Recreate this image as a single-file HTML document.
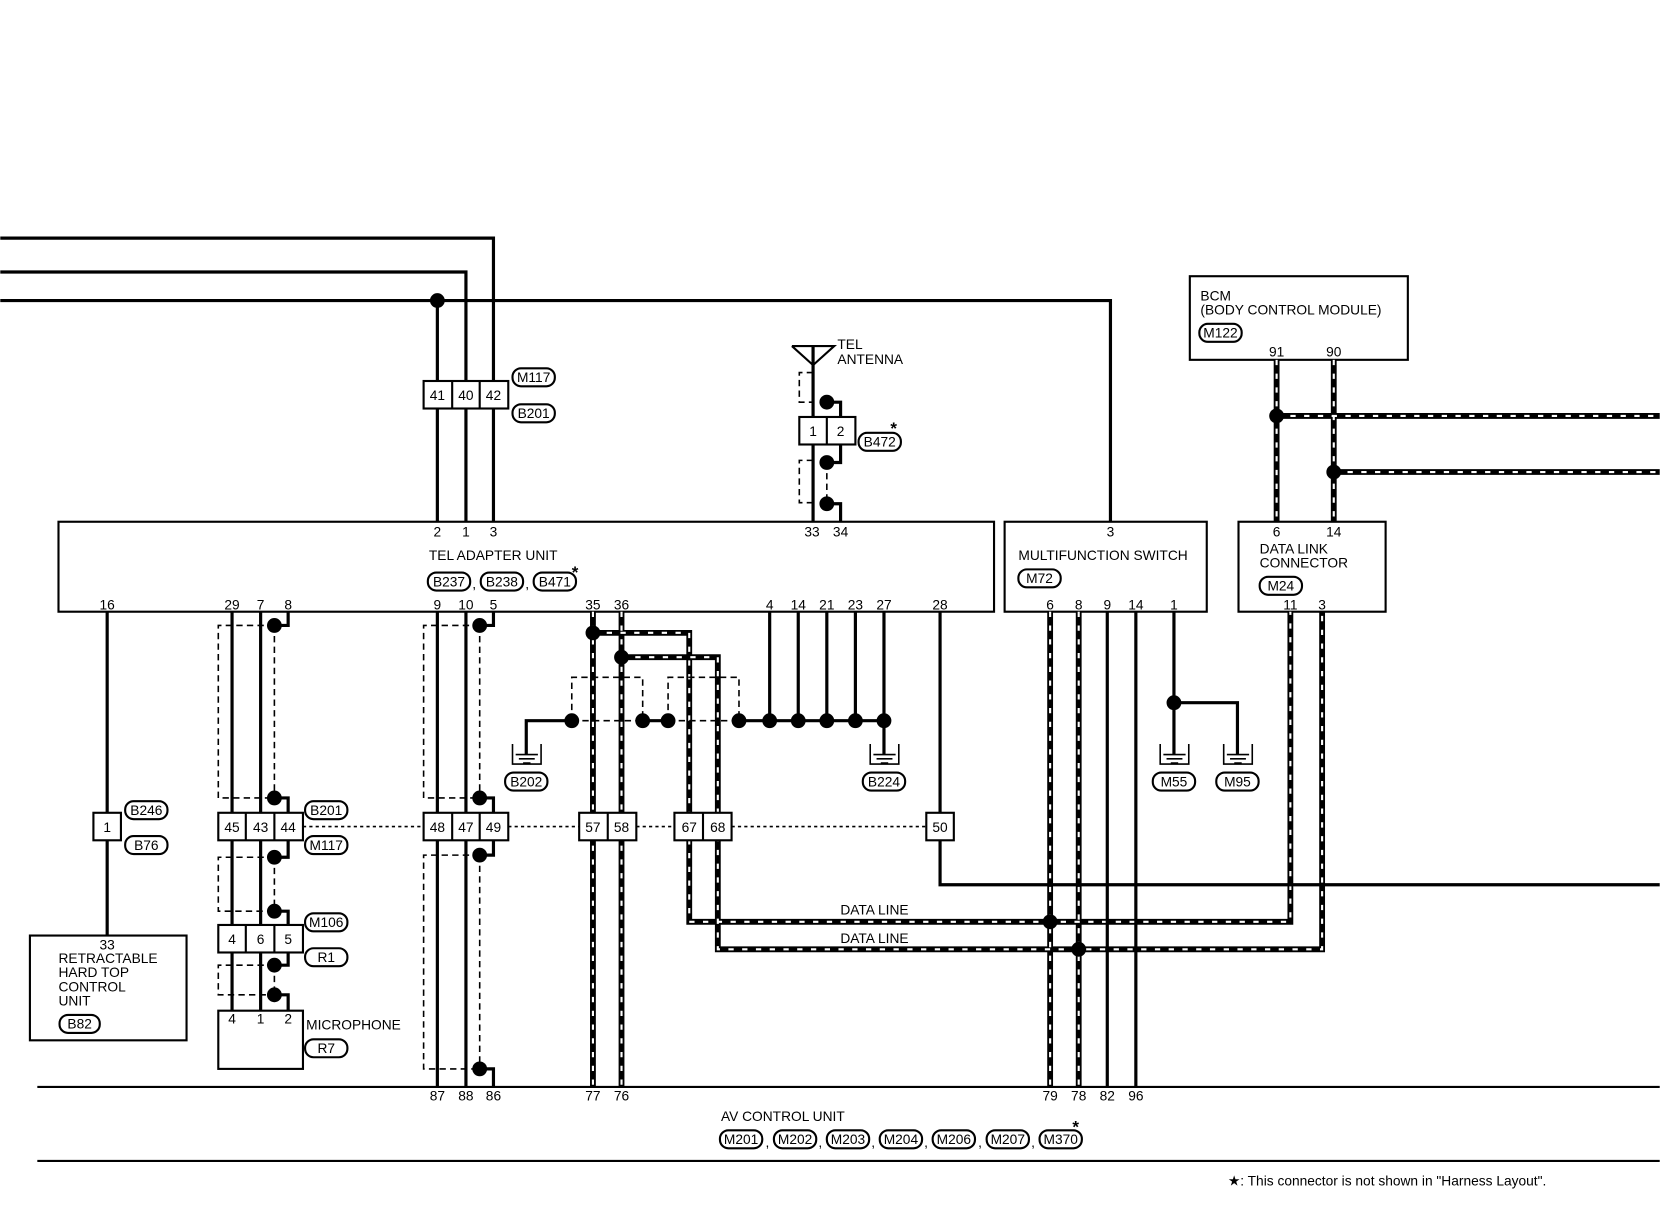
<!DOCTYPE html>
<html><head><meta charset="utf-8"><style>
html,body{margin:0;padding:0;background:#fff;}
svg{display:block}
text{font-family:"Liberation Sans",sans-serif;font-size:13px;fill:#000}
.w{stroke:#000;stroke-width:3;fill:none}
.b{stroke:#000;stroke-width:2;fill:none}
.bf{stroke:#000;stroke-width:2;fill:#fff}
.d{stroke:#000;stroke-width:1.5;fill:none;stroke-dasharray:6,4}
.dt{stroke:#000;stroke-width:1.5;fill:none;stroke-dasharray:3,3}
.k{stroke:#000;stroke-width:5.5;fill:none}
.kc{stroke:#fff;stroke-width:2;fill:none;stroke-dasharray:5,8}
.m{text-anchor:middle}
</style></head><body>
<svg width="1660" height="1216" viewBox="0 0 1568 1149" xmlns="http://www.w3.org/2000/svg">
<path class="w" d="M0 225H466V493M0 257H440V493M0 284H1049V493M413 284V493"/>
<circle cx="413" cy="284" r="7"/>
<rect class="bf" x="400" y="360" width="80" height="26"/>
<path class="b" d="M427 360V386M453 360V386"/>
<text class="m" x="413" y="378">41</text><text class="m" x="440" y="378">40</text><text class="m" x="466" y="378">42</text>
<rect class="b" x="484" y="348" width="40" height="17" rx="8"/><text class="m" x="504" y="361">M117</text>
<rect class="b" x="484" y="382" width="40" height="17" rx="8"/><text class="m" x="504" y="395">B201</text>

<rect class="b" x="55" y="493" width="884" height="85"/>
<g class="m"><text x="413" y="507">2</text><text x="440" y="507">1</text><text x="466" y="507">3</text><text x="767" y="507">33</text><text x="794" y="507">34</text>
<text x="101" y="576">16</text><text x="219" y="576">29</text><text x="246" y="576">7</text><text x="272" y="576">8</text><text x="413" y="576">9</text><text x="440" y="576">10</text><text x="466" y="576">5</text><text x="560" y="576">35</text><text x="587" y="576">36</text><text x="727" y="576">4</text><text x="754" y="576">14</text><text x="781" y="576">21</text><text x="808" y="576">23</text><text x="835" y="576">27</text><text x="888" y="576">28</text></g>
<text x="405" y="529">TEL ADAPTER UNIT</text>
<rect class="b" x="404" y="541" width="40" height="17" rx="8"/><text class="m" x="424" y="554">B237</text><text x="446" y="556">,</text>
<rect class="b" x="454" y="541" width="40" height="17" rx="8"/><text class="m" x="474" y="554">B238</text><text x="496" y="556">,</text>
<rect class="b" x="504" y="541" width="40" height="17" rx="8"/><text class="m" x="524" y="554">B471</text><text x="540" y="546" style="font-size:16px;font-weight:bold">*</text>

<path class="w" d="M748 327H788L768 345L748 327" style="stroke-width:2"/>
<path class="w" d="M768 327V493"/>
<text x="791" y="330">TEL</text><text x="791" y="344">ANTENNA</text>
<path class="w" d="M781 380H794V394M794 420V437H781M781 476H794V493"/>
<path class="d" d="M768 352H755V380H768M768 435H755V475H768M781 437V476"/>
<circle cx="781" cy="380" r="7"/><circle cx="781" cy="437" r="7"/><circle cx="781" cy="476" r="7"/>
<rect class="bf" x="755" y="394" width="53" height="26"/><path class="b" d="M781 394V420"/>
<text class="m" x="768" y="412">1</text><text class="m" x="794" y="412">2</text>
<rect class="b" x="811" y="409" width="40" height="17" rx="8"/><text class="m" x="831" y="422">B472</text><text x="841" y="410" style="font-size:16px;font-weight:bold">*</text>

<rect class="b" x="949" y="493" width="191" height="85"/>
<text class="m" x="1049" y="507">3</text>
<text x="962" y="529">MULTIFUNCTION SWITCH</text>
<rect class="b" x="962" y="538" width="40" height="17" rx="8"/><text class="m" x="982" y="551">M72</text>
<g class="m"><text x="992" y="576">6</text><text x="1019" y="576">8</text><text x="1046" y="576">9</text><text x="1073" y="576">14</text><text x="1109" y="576">1</text></g>

<rect class="b" x="1170" y="493" width="139" height="85"/>
<text class="m" x="1206" y="507">6</text><text class="m" x="1260" y="507">14</text>
<text x="1190" y="523">DATA LINK</text><text x="1190" y="536">CONNECTOR</text>
<rect class="b" x="1190" y="545" width="40" height="17" rx="8"/><text class="m" x="1210" y="558">M24</text>
<text class="m" x="1219" y="576">11</text><text class="m" x="1249" y="576">3</text>

<rect class="b" x="1124" y="261" width="206" height="79"/>
<text x="1134" y="284">BCM</text><text x="1134" y="297">(BODY CONTROL MODULE)</text>
<rect class="b" x="1133" y="306" width="40" height="17" rx="8"/><text class="m" x="1153" y="319">M122</text>
<text class="m" x="1206" y="337">91</text><text class="m" x="1260" y="337">90</text>

<g>
<path class="k" d="M1206 340V493M1260 340V493M1206 393H1568M1260 446H1568"/>
<path class="kc" d="M1206 340V493M1260 340V493M1206 393H1568M1260 446H1568"/>
<path class="k" d="M560 578V1027M587 578V1027M560 598H651V871H1219V578M587 621H678V897H1249V578M992 578V1027M1019 578V1027"/>
<path class="kc" d="M560 578V1027M587 578V1027M560 598H651V871H1219V578M587 621H678V897H1249V578M992 578V1027M1019 578V1027"/>
</g>
<circle cx="1206" cy="393" r="7"/><circle cx="1260" cy="446" r="7"/>
<circle cx="560" cy="598" r="7"/><circle cx="587" cy="621" r="7"/>
<circle cx="992" cy="871" r="7"/><circle cx="1019" cy="897" r="7"/>
<text class="m" x="826" y="864">DATA LINE</text><text class="m" x="826" y="891">DATA LINE</text>

<path class="w" d="M101 578V884"/>
<rect class="bf" x="88" y="768" width="26" height="26"/><text class="m" x="101" y="786">1</text>
<rect class="b" x="118" y="757" width="40" height="17" rx="8"/><text class="m" x="138" y="770">B246</text>
<rect class="b" x="118" y="790" width="40" height="17" rx="8"/><text class="m" x="138" y="803">B76</text>
<rect class="b" x="28" y="884" width="148" height="99"/>
<text class="m" x="101" y="897">33</text>
<text x="55" y="910">RETRACTABLE</text><text x="55" y="923">HARD TOP</text><text x="55" y="937">CONTROL</text><text x="55" y="950">UNIT</text>
<rect class="b" x="56" y="959" width="38" height="17" rx="8"/><text class="m" x="75" y="972">B82</text>

<path class="w" d="M219 578V955M246 578V955"/>
<path class="w" d="M272 578V591H259M259 754H272V768M272 794V810H259M259 861H272V874M272 900V912H259M259 940H272V955"/>
<path class="d" d="M259 591H206V754H259M259 591V754M259 810H206V861H259M259 810V861M259 912H206V940H259M259 912V940"/>
<circle cx="259" cy="591" r="7"/><circle cx="259" cy="754" r="7"/><circle cx="259" cy="810" r="7"/><circle cx="259" cy="861" r="7"/><circle cx="259" cy="912" r="7"/><circle cx="259" cy="940" r="7"/>
<rect class="bf" x="206" y="768" width="80" height="26"/><path class="b" d="M232 768V794M259 768V794"/>
<text class="m" x="219" y="786">45</text><text class="m" x="246" y="786">43</text><text class="m" x="272" y="786">44</text>
<rect class="b" x="288" y="757" width="40" height="17" rx="8"/><text class="m" x="308" y="770">B201</text>
<rect class="b" x="288" y="790" width="40" height="17" rx="8"/><text class="m" x="308" y="803">M117</text>
<rect class="bf" x="206" y="874" width="80" height="26"/><path class="b" d="M232 874V900M259 874V900"/>
<text class="m" x="219" y="892">4</text><text class="m" x="246" y="892">6</text><text class="m" x="272" y="892">5</text>
<rect class="b" x="288" y="863" width="40" height="17" rx="8"/><text class="m" x="308" y="876">M106</text>
<rect class="b" x="288" y="896" width="40" height="17" rx="8"/><text class="m" x="308" y="909">R1</text>
<rect class="bf" x="206" y="955" width="80" height="55"/>
<text class="m" x="219" y="967">4</text><text class="m" x="246" y="967">1</text><text class="m" x="272" y="967">2</text>
<text x="289" y="973">MICROPHONE</text>
<rect class="b" x="288" y="982" width="40" height="17" rx="8"/><text class="m" x="308" y="995">R7</text>

<path class="w" d="M413 578V1027M440 578V1027"/>
<path class="w" d="M466 578V591H453M453 754H466V768M466 794V808H453M453 1010H466V1027"/>
<path class="d" d="M453 591H400V754H453M453 591V754M453 808H400V1010H453M453 808V1010"/>
<circle cx="453" cy="591" r="7"/><circle cx="453" cy="754" r="7"/><circle cx="453" cy="808" r="7"/><circle cx="453" cy="1010" r="7"/>

<path class="dt" d="M286 781H400M480 781H547M601 781H637M691 781H875"/>
<rect class="bf" x="400" y="768" width="80" height="26"/><path class="b" d="M427 768V794M453 768V794"/>
<text class="m" x="413" y="786">48</text><text class="m" x="440" y="786">47</text><text class="m" x="466" y="786">49</text>
<rect class="bf" x="547" y="768" width="54" height="26"/><path class="b" d="M574 768V794"/>
<text class="m" x="560" y="786">57</text><text class="m" x="587" y="786">58</text>
<rect class="bf" x="637" y="768" width="54" height="26"/><path class="b" d="M664 768V794"/>
<text class="m" x="651" y="786">67</text><text class="m" x="678" y="786">68</text>

<path class="w" d="M727 578V681M754 578V681M781 578V681M808 578V681M835 578V713M497 713V681H540M607 681H631M698 681H835"/>
<path class="d" d="M540 681H607M631 681H698M540 681V640H607V681M631 681V640H698V681"/>
<circle cx="540" cy="681" r="7"/><circle cx="607" cy="681" r="7"/><circle cx="631" cy="681" r="7"/><circle cx="698" cy="681" r="7"/><circle cx="727" cy="681" r="7"/><circle cx="754" cy="681" r="7"/><circle cx="781" cy="681" r="7"/><circle cx="808" cy="681" r="7"/><circle cx="835" cy="681" r="7"/>
<path class="b" d="M484 703V722H511V703M487 713H508M490 717H505M494 721H501" style="stroke-width:1.5"/>
<path class="b" d="M822 703V722H849V703M825 713H846M828 717H843M832 721H839" style="stroke-width:1.5"/>
<rect class="b" x="477" y="730" width="40" height="17" rx="8"/><text class="m" x="497" y="743">B202</text>
<rect class="b" x="815" y="730" width="40" height="17" rx="8"/><text class="m" x="835" y="743">B224</text>

<path class="w" d="M888 578V768M888 794V836H1568"/>
<rect class="bf" x="875" y="768" width="26" height="26"/><text class="m" x="888" y="786">50</text>

<path class="w" d="M1046 578V1027M1073 578V1027M1109 578V713M1109 664H1169V713"/>
<circle cx="1109" cy="664" r="7"/>
<path class="b" d="M1096 703V722H1123V703M1099 713H1120M1102 717H1117M1106 721H1113" style="stroke-width:1.5"/>
<path class="b" d="M1156 703V722H1183V703M1159 713H1180M1162 717H1177M1166 721H1173" style="stroke-width:1.5"/>
<rect class="b" x="1089" y="730" width="40" height="17" rx="8"/><text class="m" x="1109" y="743">M55</text>
<rect class="b" x="1149" y="730" width="40" height="17" rx="8"/><text class="m" x="1169" y="743">M95</text>

<path class="b" d="M35 1027H1568M35 1097H1568"/>
<g class="m"><text x="413" y="1040">87</text><text x="440" y="1040">88</text><text x="466" y="1040">86</text><text x="560" y="1040">77</text><text x="587" y="1040">76</text><text x="992" y="1040">79</text><text x="1019" y="1040">78</text><text x="1046" y="1040">82</text><text x="1073" y="1040">96</text></g>
<text x="681" y="1059">AV CONTROL UNIT</text>
<g class="m">
<rect class="b" x="680" y="1068" width="40" height="17" rx="8"/><text x="700" y="1081">M201</text>
<rect class="b" x="731" y="1068" width="40" height="17" rx="8"/><text x="751" y="1081">M202</text>
<rect class="b" x="781" y="1068" width="40" height="17" rx="8"/><text x="801" y="1081">M203</text>
<rect class="b" x="831" y="1068" width="40" height="17" rx="8"/><text x="851" y="1081">M204</text>
<rect class="b" x="881" y="1068" width="40" height="17" rx="8"/><text x="901" y="1081">M206</text>
<rect class="b" x="932" y="1068" width="40" height="17" rx="8"/><text x="952" y="1081">M207</text>
<rect class="b" x="982" y="1068" width="40" height="17" rx="8"/><text x="1002" y="1081">M370</text>
</g>
<g><text x="723" y="1084">,</text><text x="773" y="1084">,</text><text x="823" y="1084">,</text><text x="873" y="1084">,</text><text x="924" y="1084">,</text><text x="974" y="1084">,</text></g>
<text x="1013" y="1070" style="font-size:16px;font-weight:bold">*</text>
<text x="1160" y="1120">★: This connector is not shown in "Harness Layout".</text>
</svg>
</body></html>
